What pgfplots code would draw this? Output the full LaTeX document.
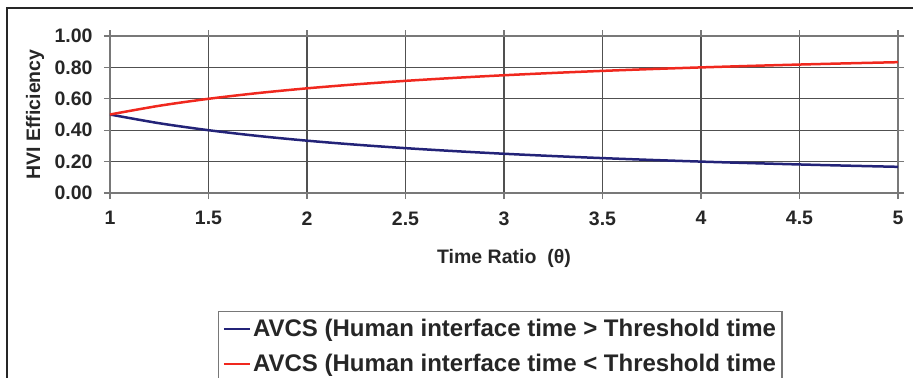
\documentclass[border=0pt]{standalone}
\usepackage{fontspec}
\setmainfont{Liberation Sans}
\usepackage{pgfplots}
\pgfplotsset{compat=1.18}
\definecolor{cblue}{RGB}{35,35,120}
\definecolor{cred}{RGB}{240,40,30}
\definecolor{gridc}{RGB}{80,80,80}
\definecolor{axc}{RGB}{120,120,120}
\begin{document}
\begin{tikzpicture}
\useasboundingbox (-110bp,-185bp) rectangle (803bp,193bp);
\clip (-110bp,-185bp) rectangle (803bp,193bp);
\draw[line width=1.5bp, black!85] (-103bp,-220bp) rectangle (850bp,185bp);
\begin{axis}[
  at={(0,0)}, anchor=south west,
  scale only axis, width=788bp, height=157bp,
  xmin=1, xmax=5, ymin=0, ymax=1,
  xtick={1,1.5,...,5},
  xticklabels={1,1.5,2,2.5,3,3.5,4,4.5,5},
  ytick={0,0.2,...,1},
  /pgf/number format/assume math mode=true,
  tick label style={font=\fontsize{19.5bp}{22bp}\selectfont\bfseries, text=black!85},
  yticklabel style={xshift=-8bp, /pgf/number format/.cd, fixed, fixed zerofill, precision=2},
  xticklabel style={yshift=-9bp},
  tick align=outside, major tick length=6bp,
  tick style={axc, line width=1.2bp},
  grid=major,
  major grid style={gridc, line width=1.1bp},
  axis line style={axc, line width=1.2bp},
  xlabel={Time Ratio\ \ (θ)},
  ylabel={HVI Efficiency},
  label style={font=\fontsize{19.5bp}{22bp}\selectfont\bfseries, text=black!85},
  xlabel style={at={(axis description cs:0.5,-0.414)}, anchor=center},
  ylabel style={at={(axis description cs:-0.0952,0.5)}, anchor=center},
  legend style={at={(axis description cs:0.137,-0.7516)}, anchor=north west,
    draw=axc, line width=1.2bp, fill=white,
    font=\fontsize{24bp}{27bp}\selectfont\bfseries, text=black!85,
    inner xsep=4bp, inner ysep=6bp, row sep=12bp,
    /tikz/every even column/.append style={column sep=7bp}},
  legend cell align=left,
  legend image code/.code={\draw[#1, line width=2.5bp] (0bp,0bp) -- (26bp,0bp);},
]
\addplot[cblue, line width=2.5bp, smooth] coordinates {
(1,0.5) (1.25,0.4444) (1.5,0.4) (1.75,0.3636) (2,0.3333) (2.25,0.3077) (2.5,0.2857) (2.75,0.2667) (3,0.25) (3.25,0.2353) (3.5,0.2222) (3.75,0.2105) (4,0.2) (4.25,0.1905) (4.5,0.1818) (4.75,0.1739) (5,0.1667)};
\addlegendentry{AVCS (Human interface time > Threshold time}
\addplot[cred, line width=2.5bp, smooth] coordinates {
(1,0.5) (1.25,0.5556) (1.5,0.6) (1.75,0.6364) (2,0.6667) (2.25,0.6923) (2.5,0.7143) (2.75,0.7333) (3,0.75) (3.25,0.7647) (3.5,0.7778) (3.75,0.7895) (4,0.8) (4.25,0.8095) (4.5,0.8182) (4.75,0.8261) (5,0.8333)};
\addlegendentry{AVCS (Human interface time < Threshold time}
\end{axis}
\end{tikzpicture}
\end{document}
